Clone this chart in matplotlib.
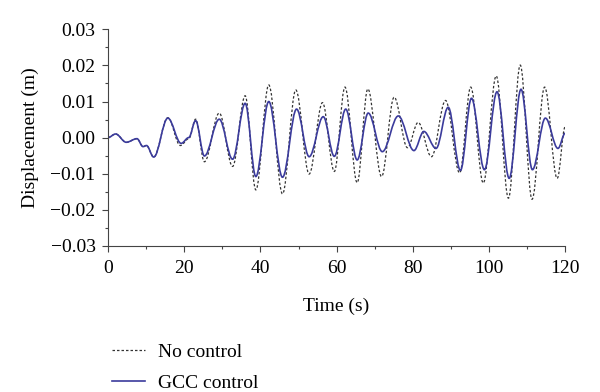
import numpy as np
import matplotlib
matplotlib.use("Agg")
import matplotlib.pyplot as plt
from matplotlib.path import Path
from matplotlib.patches import PathPatch
from matplotlib.lines import Line2D
from matplotlib.ticker import MultipleLocator, FuncFormatter

plt.rcParams['font.family'] = ['Liberation Serif', 'DejaVu Serif']

# peaks / troughs (time in s, displacement in m)
t_nc = [0, 2.0, 4.8, 7.6, 9.2, 10.1, 12.0, 15.7, 19.0, 21.2, 23.0, 25.3, 29.2, 32.7,
        36.0, 38.8, 42.2, 45.8, 49.3, 52.8, 56.3, 59.4, 62.2, 65.4, 68.2, 71.8,
        75.1, 78.6, 81.4, 84.9, 88.6, 92.3, 95.2, 98.5, 101.9, 105.1, 108.2,
        111.3, 114.6, 117.9, 120]
d_nc = [0, 0.001, -0.0013, -0.0003, -0.0025, -0.0022, -0.0054, 0.0055, -0.0022,
        -0.0003, 0.0051, -0.0067, 0.0068, -0.008, 0.0116, -0.0145, 0.0146, -0.0156,
        0.0132, -0.0101, 0.0097, -0.0094, 0.014, -0.0125, 0.0135, -0.0108, 0.0112,
        -0.0028, 0.0042, -0.0053, 0.0103, -0.0098, 0.014, -0.0126, 0.0171, -0.0168,
        0.0201, -0.0171, 0.014, -0.0113, 0.003]

t_gcc = [0, 2.0, 4.8, 7.6, 9.2, 10.1, 12.0, 15.7, 19.2, 21.2, 23.0, 25.3, 29.2, 32.7,
         36.0, 38.8, 42.2, 45.8, 49.5, 52.8, 56.5, 59.4, 62.4, 65.4, 68.3, 72.0,
         76.2, 80.3, 82.9, 86.1, 89.3, 92.5, 95.4, 98.8, 102.1, 105.3, 108.4,
         111.4, 114.8, 118.1, 120]
d_gcc = [0, 0.001, -0.0013, -0.0003, -0.0025, -0.0022, -0.0054, 0.0054, -0.0016,
         0.0, 0.0047, -0.0051, 0.0051, -0.006, 0.0095, -0.0108, 0.0100, -0.011,
         0.0079, -0.0053, 0.0058, -0.0052, 0.0079, -0.0062, 0.0068, -0.0039, 0.006,
         -0.0036, 0.0017, -0.003, 0.0084, -0.0091, 0.0109, -0.0089, 0.0127, -0.0113,
         0.0134, -0.0089, 0.0054, -0.003, 0.0012]

labels = ['No control', 'GCC control']
c_nc = '#333333'
c_gcc = '#3b3b9c'


def smooth_path(t, d):
    # cubic bezier segments with flat tangents at each read point
    verts = [(t[0], d[0])]
    codes = [Path.MOVETO]
    for i in range(len(t) - 1):
        h = t[i + 1] - t[i]
        verts += [(t[i] + 0.36 * h, d[i]), (t[i + 1] - 0.36 * h, d[i + 1]), (t[i + 1], d[i + 1])]
        codes += [Path.CURVE4] * 3
    return Path(verts, codes)


fig = plt.figure(figsize=(6, 3.92), dpi=100)
ax = fig.add_axes([0.18, 0.373, 0.762, 0.552])

ax.add_patch(PathPatch(smooth_path(t_nc, d_nc), fill=False, edgecolor=c_nc,
                       lw=0.9, linestyle=(0, (2, 1.6))))
ax.add_patch(PathPatch(smooth_path(t_gcc, d_gcc), fill=False, edgecolor=c_gcc, lw=1.2))

ax.set_xlim(0, 120)
ax.set_ylim(-0.03, 0.03)
ax.xaxis.set_major_locator(MultipleLocator(20))
ax.xaxis.set_minor_locator(MultipleLocator(10))
ax.yaxis.set_major_locator(MultipleLocator(0.01))
ax.yaxis.set_minor_locator(MultipleLocator(0.005))


def fmt(v, pos):
    s = f"{v:.2f}"
    if s == "-0.00":
        s = "0.00"
    return s.replace('-', '\u2212')


ax.yaxis.set_major_formatter(FuncFormatter(fmt))
for s in ['top', 'right']:
    ax.spines[s].set_visible(False)
for s in ['left', 'bottom']:
    ax.spines[s].set_color('#444444')
ax.tick_params(which='major', length=4, width=0.8, color='#444444', labelsize=14)
ax.tick_params(which='minor', length=2.5, width=0.8, color='#444444')
ax.tick_params(axis='x', which='major', pad=6)
ax.tick_params(axis='y', which='major', pad=5)
ax.set_xlabel('Time (s)', fontsize=14, labelpad=15)
ax.set_ylabel('Displacement (m)', fontsize=14, labelpad=8)

handles = [Line2D([], [], color=c_nc, lw=0.9, linestyle=(0, (2, 1.6))),
           Line2D([], [], color=c_gcc, lw=1.2)]
fig.legend(handles, labels, loc='lower left', bbox_to_anchor=(0.158, -0.045),
           frameon=False, fontsize=14, handlelength=1.7, handletextpad=0.65,
           labelspacing=0.72)

fig.savefig('out.png', dpi=100)
